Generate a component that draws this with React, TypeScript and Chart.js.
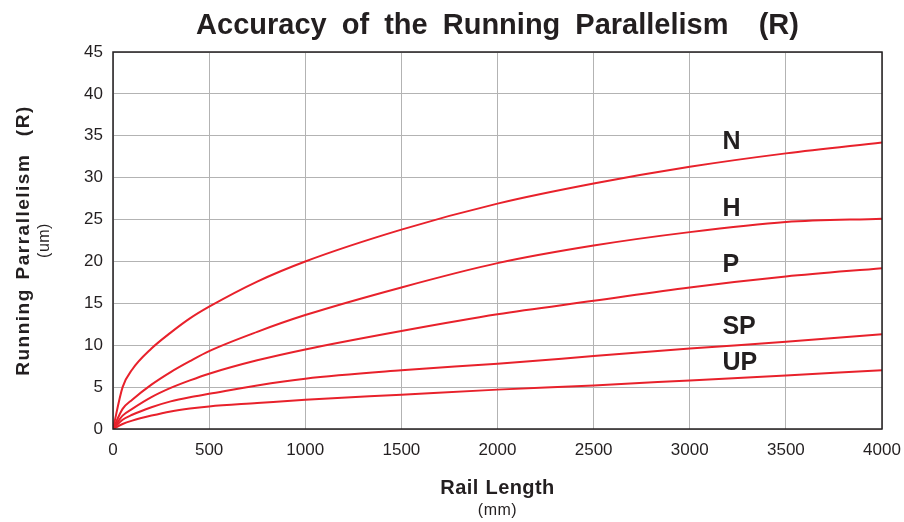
import React, { useEffect, useRef } from "react";
import { Chart, registerables } from "chart.js";

Chart.register(...registerables);

const railLength = [0, 50, 100, 200, 300, 400, 500, 750, 1000, 1500, 2000, 2500, 3000, 3500, 4000];
const seriesN = [0, 5.0, 7.1, 9.6, 11.5, 13.2, 14.6, 17.6, 20.0, 23.8, 26.9, 29.3, 31.3, 32.9, 34.2];
const seriesH = [0, 2.4, 3.5, 5.3, 6.8, 8.1, 9.3, 11.6, 13.6, 16.9, 19.8, 21.9, 23.5, 24.7, 25.1];
const seriesP = [0, 1.6, 2.4, 3.8, 4.9, 5.8, 6.6, 8.2, 9.5, 11.7, 13.7, 15.3, 16.9, 18.2, 19.2];
const seriesSP = [0, 1.1, 1.7, 2.6, 3.3, 3.8, 4.2, 5.2, 6.0, 7.0, 7.8, 8.7, 9.6, 10.4, 11.3];
const seriesUP = [0, 0.6, 1.0, 1.6, 2.1, 2.45, 2.7, 3.1, 3.5, 4.1, 4.7, 5.2, 5.8, 6.4, 7.0];
const seriesNames = ["N", "H", "P", "SP", "UP"];
const labelX = [3170, 3170, 3170, 3170, 3170];
const labelY = [34.2, 26.3, 19.6, 12.2, 7.9];

const TITLE = "Accuracy of the Running Parallelism  (R)";
const X_TITLE = "Rail Length";
const X_UNIT = "(mm)";
const Y_TITLE = "Running Parrallelism  (R)";
const Y_UNIT = "(um)";

const RED = "#e8212b";
const TEXT = "#231f20";
const FONT = "'Liberation Sans', Arial, sans-serif";

export default function App() {
  const ref = useRef<HTMLCanvasElement | null>(null);

  useEffect(() => {
    if (!ref.current) return;
    const all = [seriesN, seriesH, seriesP, seriesSP, seriesUP];
    const text = (ctx: any, s: string, x: number, y: number, font: string, ls: number, ws: number) => {
      ctx.font = font;
      ctx.letterSpacing = `${ls}px`;
      ctx.wordSpacing = `${ws}px`;
      ctx.fillText(s, x, y);
      ctx.letterSpacing = "0px";
      ctx.wordSpacing = "0px";
    };
    const decor = {
      id: "decor",
      afterDraw(chart: any) {
        const { ctx, chartArea: a, scales } = chart;
        ctx.save();
        ctx.strokeStyle = "#231f20";
        ctx.lineWidth = 1.5;
        ctx.strokeRect(a.left, a.top, a.right - a.left, a.bottom - a.top);
        ctx.fillStyle = TEXT;
        ctx.textAlign = "center";
        ctx.textBaseline = "alphabetic";
        const cx = (a.left + a.right) / 2;
        text(ctx, TITLE, cx, 34, `bold 29px ${FONT}`, 0, 7);
        text(ctx, X_TITLE, cx, 494, `bold 20px ${FONT}`, 0.4, 1);
        text(ctx, X_UNIT, cx, 515, `16px ${FONT}`, 0.5, 0);
        const cy = (a.top + a.bottom) / 2;
        ctx.save();
        ctx.translate(29, cy);
        ctx.rotate(-Math.PI / 2);
        text(ctx, Y_TITLE, 0, 0, `bold 19px ${FONT}`, 1.5, 2);
        ctx.restore();
        ctx.save();
        ctx.translate(49, cy);
        ctx.rotate(-Math.PI / 2);
        text(ctx, Y_UNIT, 0, 0, `16px ${FONT}`, 0.5, 0);
        ctx.restore();
        ctx.textAlign = "left";
        ctx.textBaseline = "middle";
        seriesNames.forEach((n, i) => {
          text(ctx, n, scales.x.getPixelForValue(labelX[i]), scales.y.getPixelForValue(labelY[i]), `bold 25px ${FONT}`, 0, 0);
        });
        ctx.restore();
      },
    };
    const chart = new Chart(ref.current, {
      type: "line",
      data: {
        datasets: all.map((s, i) => ({
          label: seriesNames[i],
          data: s.map((v, j) => ({ x: railLength[j], y: v })),
          borderColor: RED,
          borderWidth: 2,
          pointRadius: 0,
          fill: false,
          cubicInterpolationMode: "monotone" as const,
        })),
      },
      options: {
        animation: false,
        responsive: false,
        devicePixelRatio: 1,
        layout: { padding: { top: 52, right: 22, left: 0, bottom: 0 } },
        plugins: { legend: { display: false }, title: { display: false }, tooltip: { enabled: false } },
        scales: {
          x: {
            type: "linear",
            min: 0,
            max: 4000,
            ticks: {
              stepSize: 500,
              padding: 11,
              color: TEXT,
              font: { family: FONT, size: 17 },
              callback: (v: any) => String(v),
            },
            grid: { color: "#b3b3b3", lineWidth: 1, drawTicks: false },
            border: { display: false },
            afterFit(scale: any) {
              scale.height = 93;
              scale.paddingLeft = 0;
              scale.paddingRight = 0;
            },
          },
          y: {
            type: "linear",
            min: 0,
            max: 45,
            ticks: {
              stepSize: 5,
              padding: 10,
              color: TEXT,
              font: { family: FONT, size: 17 },
              callback: (v: any) => String(v),
            },
            grid: { color: "#b3b3b3", lineWidth: 1, drawTicks: false },
            border: { display: false },
            afterFit(scale: any) {
              scale.width = 113;
              scale.paddingTop = 0;
              scale.paddingBottom = 0;
            },
          },
        },
      },
      plugins: [decor],
    });
    return () => chart.destroy();
  }, []);

  return (
    <div style={{ position: "fixed", left: 0, top: 0, width: 904, height: 522, background: "#fff" }}>
      <canvas ref={ref} width={904} height={522} style={{ width: 904, height: 522 }} />
    </div>
  );
}
